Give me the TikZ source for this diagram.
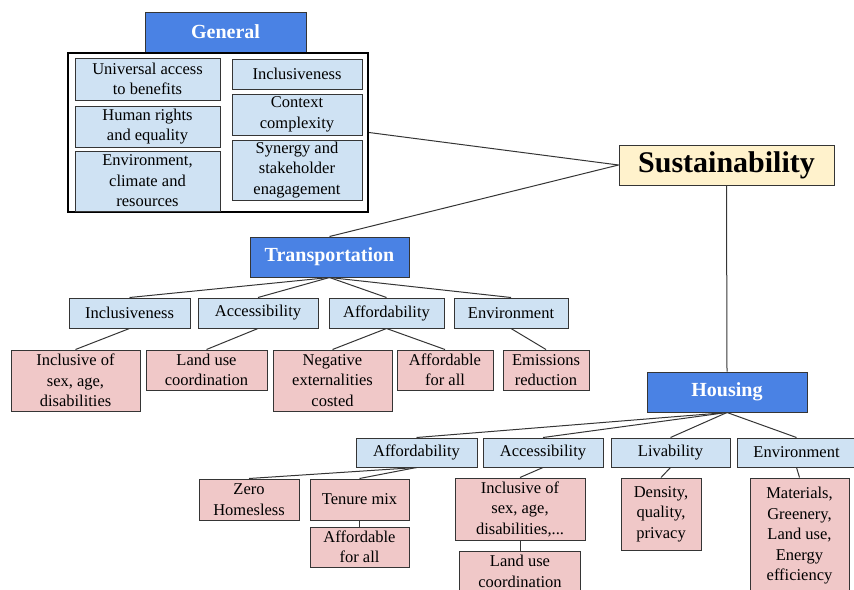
\documentclass[tikz,border=0pt]{standalone}
\usepackage{fontspec}
\setmainfont{Liberation Serif}
\usepackage{tikz}
\usetikzlibrary{positioning}
\definecolor{headblue}{HTML}{4A82E4}
\definecolor{topicblue}{HTML}{CFE2F3}
\definecolor{itempink}{HTML}{F0C8C8}
\definecolor{goalyellow}{HTML}{FFF2CC}
\definecolor{edgegray}{HTML}{353535}

\begin{document}
\begin{tikzpicture}[x=1pt, y=-1pt,
    box/.style={draw=edgegray, line width=1pt, inner sep=0pt, align=center,
        font=\fontsize{16.5}{20.5}\selectfont},
    sect/.style={box, fill=headblue, text=white, font=\bfseries\fontsize{20}{24}\selectfont},
    topic/.style={box, fill=topicblue},
    item/.style={box, fill=itempink},
    goal/.style={box, fill=goalyellow, font=\bfseries\fontsize{30}{34}\selectfont},
    conn/.style={draw=edgegray, line width=1pt}]
    \useasboundingbox (0,0) rectangle (854,589);
    % general principles
    \node[sect, minimum width=161, minimum height=40] (general) at (225.5,32) {General};
    \node[draw=black, line width=2pt, minimum width=300, minimum height=159] (gframe) at (218,132.5) {};
    \node[topic, minimum width=145, minimum height=42] (univ) at (147.5,79) {Universal access\\to benefits};
    \node[topic, minimum width=145, minimum height=41] (rights) at (147.5,126.5) {Human rights\\and equality};
    \node[topic, minimum width=145, minimum height=60] (envgen) at (147.5,181) {Environment,\\climate and\\resources};
    \node[topic, minimum width=130, minimum height=30] (inclgen) at (297,74) {Inclusiveness};
    \node[topic, minimum width=130, minimum height=41] (context) at (297,114.5) {Context\\complexity};
    \node[topic, minimum width=130, minimum height=60] (synergy) at (297,170) {Synergy and\\stakeholder\\enagagement};
    % root
    \node[goal, minimum width=215, minimum height=40] (sust) at (726.5,165) {Sustainability};
    % transportation
    \node[sect, minimum width=159, minimum height=40] (trans) at (329.5,257) {Transportation};
    \node[topic, minimum width=121, minimum height=30] (tincl) at (129.5,313) {Inclusiveness};
    \node[topic, minimum width=120, minimum height=30] (tacc) at (258,313) {Accessibility};
    \node[topic, minimum width=115, minimum height=30] (taff) at (386.5,313) {Affordability};
    \node[topic, minimum width=114, minimum height=30] (tenv) at (511,313) {Environment};
    \node[item, minimum width=129, minimum height=61] (tinclof) at (75.5,380.5) {Inclusive of\\sex, age,\\disabilities};
    \node[item, minimum width=121, minimum height=40] (tland) at (206.5,370) {Land use\\coordination};
    \node[item, minimum width=119, minimum height=61] (tneg) at (332.5,380.5) {Negative\\externalities\\costed};
    \node[item, minimum width=96, minimum height=40] (tafford) at (445,370) {Affordable\\for all};
    \node[item, minimum width=86, minimum height=40] (temis) at (546,370) {Emissions\\reduction};
    % housing
    \node[sect, minimum width=160, minimum height=40] (housing) at (727,392) {Housing};
    \node[topic, minimum width=121, minimum height=29] (haff) at (416.5,452.5) {Affordability};
    \node[topic, minimum width=120, minimum height=29] (hacc) at (543,452.5) {Accessibility};
    \node[topic, minimum width=119, minimum height=29] (hliv) at (670.5,452.5) {Livability};
    \node[topic, minimum width=119, minimum height=29] (henv) at (796.5,452.5) {Environment};
    \node[item, minimum width=100, minimum height=41] (hzero) at (249,499.5) {Zero\\Homesless};
    \node[item, minimum width=99, minimum height=41] (htenure) at (359.5,499.5) {Tenure mix};
    \node[item, minimum width=99, minimum height=40] (hafford) at (359.5,547) {Affordable\\for all};
    \node[item, minimum width=130, minimum height=62] (hinclof) at (520,509) {Inclusive of\\sex, age,\\disabilities,...};
    \node[item, minimum width=121, minimum height=41] (hland) at (520,571.5) {Land use\\coordination};
    \node[item, minimum width=80, minimum height=72] (hdens) at (661,514) {Density,\\quality,\\privacy};
    \node[item, minimum width=99, minimum height=116] (hmat) at (799.5,536) {Materials,\\Greenery,\\Land use,\\Energy\\efficiency};
    % connectors
    \draw[conn] (sust.west) -- (gframe.east);
    \draw[conn] (sust.west) -- (trans.north);
    \draw[conn] (sust.south) -- (housing.north);
    \foreach \c in {tincl,tacc,taff,tenv}
        \draw[conn] (trans.south) -- (\c.north);
    \draw[conn] (tincl.south) -- (tinclof.north);
    \draw[conn] (tacc.south) -- (tland.north);
    \draw[conn] (taff.south) -- (tneg.north);
    \draw[conn] (taff.south) -- (tafford.north);
    \draw[conn] (tenv.south) -- (temis.north);
    \foreach \c in {haff,hacc,hliv,henv}
        \draw[conn] (housing.south) -- (\c.north);
    \draw[conn] (haff.south) -- (hzero.north);
    \draw[conn] (haff.south) -- (htenure.north);
    \draw[conn] (htenure.south) -- (hafford.north);
    \draw[conn] (hacc.south) -- (hinclof.north);
    \draw[conn] (hinclof.south) -- (hland.north);
    \draw[conn] (hliv.south) -- (hdens.north);
    \draw[conn] (henv.south) -- (hmat.north);
\end{tikzpicture}
\end{document}
